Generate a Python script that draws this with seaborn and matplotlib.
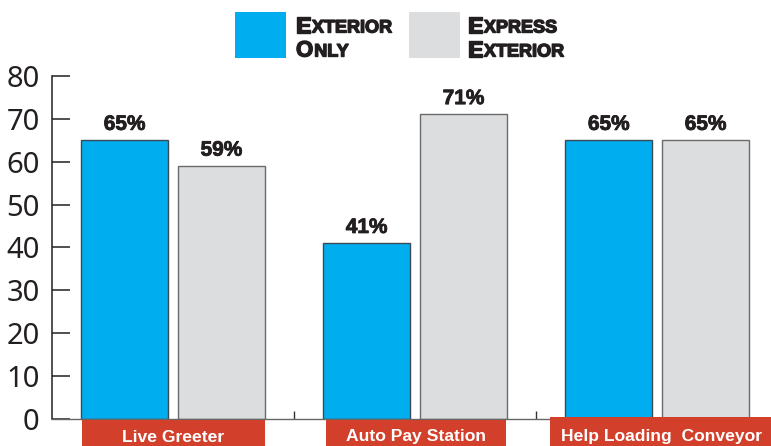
import matplotlib
matplotlib.use("Agg")
import matplotlib.pyplot as plt
import matplotlib.transforms as mtransforms
import matplotlib.patheffects as pe
from matplotlib.patches import Rectangle
import seaborn as sns
import pandas as pd

# ---- data ----
categories = ["Live Greeter", "Auto Pay Station", "Help Loading  Conveyor"]
series_names = ["Exterior Only", "Express Exterior"]
exterior_only = [65, 41, 65]
express_exterior = [59, 71, 65]
y_ticks = [0, 10, 20, 30, 40, 50, 60, 70, 80]

colors = ["#00AEEF", "#DCDDDF"]
edge_colors = ["#3C4A55", "#6A6A6A"]
red = "#D2402B"
ink = "#231F20"

rows = []
for c, a, b in zip(categories, exterior_only, express_exterior):
    rows.append({"category": c, "series": series_names[0], "value": a})
    rows.append({"category": c, "series": series_names[1], "value": b})
df = pd.DataFrame(rows)

sns.set_theme(style="white")
plt.rcParams["font.family"] = ["Liberation Sans", "DejaVu Sans"]

W, H = 771, 446
fig = plt.figure(figsize=(W / 100, H / 100), dpi=100)
ax = fig.add_axes([52 / W, 1 - 419.3 / H, (W - 52) / W, (419.3 - 75.7) / H])

sns.barplot(data=df, x="category", y="value", hue="series", order=categories,
            hue_order=series_names, palette=colors, width=0.8, gap=0.1,
            saturation=1, legend=False, ax=ax, linewidth=1.0, edgecolor="#555555")

bold_fx = [pe.withStroke(linewidth=0.6, foreground=ink)]
for cont, ec in zip(ax.containers, edge_colors):
    for p in cont.patches:
        p.set_edgecolor(ec)
    labels = ax.bar_label(cont, fmt="{:.0f}%", padding=4.5, fontsize=15, fontweight="bold",
                          color=ink)
    for t in labels:
        t.set_path_effects(bold_fx)

ax.set_ylim(0, 80)
ax.set_xlim(-0.5, 2.47)
ax.set_yticks(y_ticks)
ax.set_yticklabels([str(t) for t in y_ticks], fontsize=21, family="Noto Sans",
                   color=ink)
ax.set_xticks([0.5, 1.5])
ax.set_xticklabels([])
ax.set_xlabel("")
ax.set_ylabel("")
ax.tick_params(axis="y", direction="in", length=13, width=1.1, color=ink, pad=9,
               left=True)
ax.tick_params(axis="x", direction="in", length=6, width=1.0, color="#333333", bottom=True)
for s in ["top", "right"]:
    ax.spines[s].set_visible(False)
ax.spines["left"].set_color(ink)
ax.spines["left"].set_linewidth(1.1)
ax.spines["bottom"].set_color("#666666")
ax.spines["bottom"].set_linewidth(1.0)

# ---- category label boxes ----
trans = mtransforms.blended_transform_factory(ax.transData, fig.transFigure)
box_spans = [(-0.376, 0.38), (0.632, 1.376), (1.558, 2.48)]
box_tops = [419.5, 419.5, 417]
for (x0, x1), top, lab in zip(box_spans, box_tops, categories):
    r = Rectangle((x0, 0), x1 - x0, 1 - top / H, transform=trans, facecolor=red,
                  edgecolor="none", clip_on=False, zorder=5)
    fig.add_artist(r)
    fig.text((x0 + x1) / 2, 1 - 441.5 / H, lab, transform=trans,
             ha="center", va="baseline", color="white",
             fontsize=12.6, fontweight="bold", zorder=6)

# ---- legend (small caps) ----
renderer = fig.canvas.get_renderer()

def small_caps(xpx, ypx, word, big=16, small=13):
    x = xpx
    for part, size in [(word[0], big), (word[1:], small)]:
        t = fig.text(x / W, 1 - ypx / H, part, fontsize=size, fontweight="bold",
                     color=ink, ha="left", va="baseline")
        t.set_path_effects([pe.withStroke(linewidth=1.0, foreground=ink)])
        x += t.get_window_extent(renderer).width + 1.0

legend_items = [(235, 296), (409, 468)]
for (sx, tx), name, col in zip(legend_items, series_names, colors):
    fig.add_artist(Rectangle((sx / W, 1 - 57.5 / H), 51 / W, 45.5 / H,
                             transform=fig.transFigure, facecolor=col, edgecolor="none"))
    words = name.upper().split()
    for i, w in enumerate(words):
        small_caps(tx, 32.5 + i * 24, w)

fig.savefig("out.png", dpi=100)
